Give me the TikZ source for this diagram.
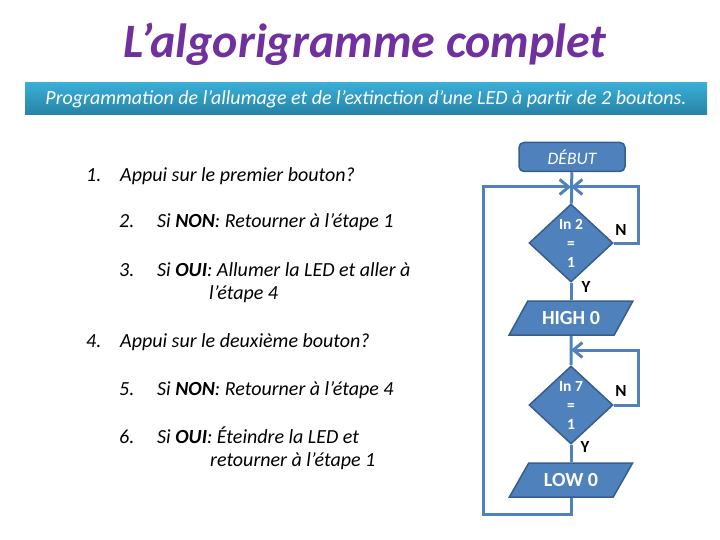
\documentclass[tikz,border=0pt]{standalone}
\usepackage{fontspec}
\setmainfont{Carlito}
\usepackage{tikz}
\usetikzlibrary{arrows.meta,shapes.geometric,calc,positioning}
\definecolor{titreviolet}{HTML}{7030A0}
\definecolor{bleuhaut}{HTML}{3AAED6}
\definecolor{bleubas}{HTML}{2882A6}
\definecolor{bleuforme}{HTML}{4F81BD}
\definecolor{bleubord}{HTML}{385D8A}

\begin{document}
\begin{tikzpicture}[x=1pt,y=-1pt]
    \tikzset{texte/.style = {anchor=base west, inner sep=0pt,
        font=\fontsize{20}{24}\selectfont\itshape},
      forme/.style = {draw=bleubord, line width=1.5pt, fill=bleuforme,
        text=white},
      debut/.style = {forme, rectangle, rounded corners=5pt,
        minimum width=106pt, minimum height=29pt,
        font=\fontsize{17.5}{20}\selectfont\itshape},
      test/.style = {forme, diamond, inner sep=0pt, align=center,
        minimum width=84pt, minimum height=78pt,
        font=\fontsize{15.5}{19}\selectfont\bfseries},
      sortie/.style = {forme, trapezium, trapezium left angle=55,
        trapezium right angle=125, trapezium stretches=true,
        minimum width=124pt, minimum height=34pt,
        font=\fontsize{20}{22}\selectfont\bfseries},
      reponse/.style = {font=\fontsize{17}{19}\selectfont\bfseries},
      lien/.style = {draw=bleuforme, line width=3pt},
      fleche/.style = {-{Straight Barb[length=9pt,width=15pt]}}}
    \useasboundingbox (0,0) rectangle (720,540);
    \node[text=titreviolet, font=\fontsize{48}{52}\selectfont\bfseries\itshape]
      (titre) at (365,44) {L’algorigramme complet};
    \node[minimum width=682pt, minimum height=32pt, inner sep=0pt,
      top color=bleuhaut, bottom color=bleubas, text=white,
      font=\fontsize{20}{22}\selectfont\itshape]
      (bandeau) at (366,99) {Programmation de l’allumage et de l’extinction d’une LED à partir de 2 boutons.};
    \node[texte] (n1) at (86,182) {1.};
    \node[texte] (e1) at (120,182) {Appui sur le premier bouton?};
    \node[texte] (n2) at (119,228) {2.};
    \node[texte] (e2) at (157,228) {Si \textbf{NON}: Retourner à l’étape 1};
    \node[texte] (n3) at (119,276) {3.};
    \node[texte] (e3) at (157,276) {Si \textbf{OUI}: Allumer la LED et aller à};
    \node[texte] (e3b) at (209,299) {l’étape 4};
    \node[texte] (n4) at (86,347) {4.};
    \node[texte] (e4) at (120,347) {Appui sur le deuxième bouton?};
    \node[texte] (n5) at (119,395) {5.};
    \node[texte] (e5) at (157,395) {Si \textbf{NON}: Retourner à l’étape 4};
    \node[texte] (n6) at (119,443) {6.};
    \node[texte] (e6) at (157,443) {Si \textbf{OUI}: Éteindre la LED et};
    \node[texte] (e6b) at (210,466) {retourner à l’étape 1};
    \node[debut] (start) at (572,157) {DÉBUT};
    \node[test] (test1) at (571,243) {In 2\\=\\1};
    \node[sortie] (high) at (571,318) {HIGH 0};
    \node[test] (test2) at (571,405) {In 7\\=\\1};
    \node[sortie] (low) at (571,480) {LOW 0};
    \coordinate (jonction1) at (571,187);
    \coordinate (jonction2) at (571,350);
    \coordinate (retour) at (483,514);
    \draw[lien] (start) -- (test1);
    \draw[lien] (test1) -- (high);
    \draw[lien] (high) -- (test2);
    \draw[lien] (test2) -- (low);
    \draw[lien,fleche] (test1.east) -- ++(25,0) |- (jonction1);
    \draw[lien,fleche] (test2.east) -- ++(25,0) |- (jonction2);
    \draw[lien,fleche] (low.south) |- (retour) |- (jonction1);
    \node[reponse] (non1) at (621,230) {N};
    \node[reponse] (oui1) at (586,287) {Y};
    \node[reponse] (non2) at (621,391) {N};
    \node[reponse] (oui2) at (585,447) {Y};
  \end{tikzpicture}
\end{document}
